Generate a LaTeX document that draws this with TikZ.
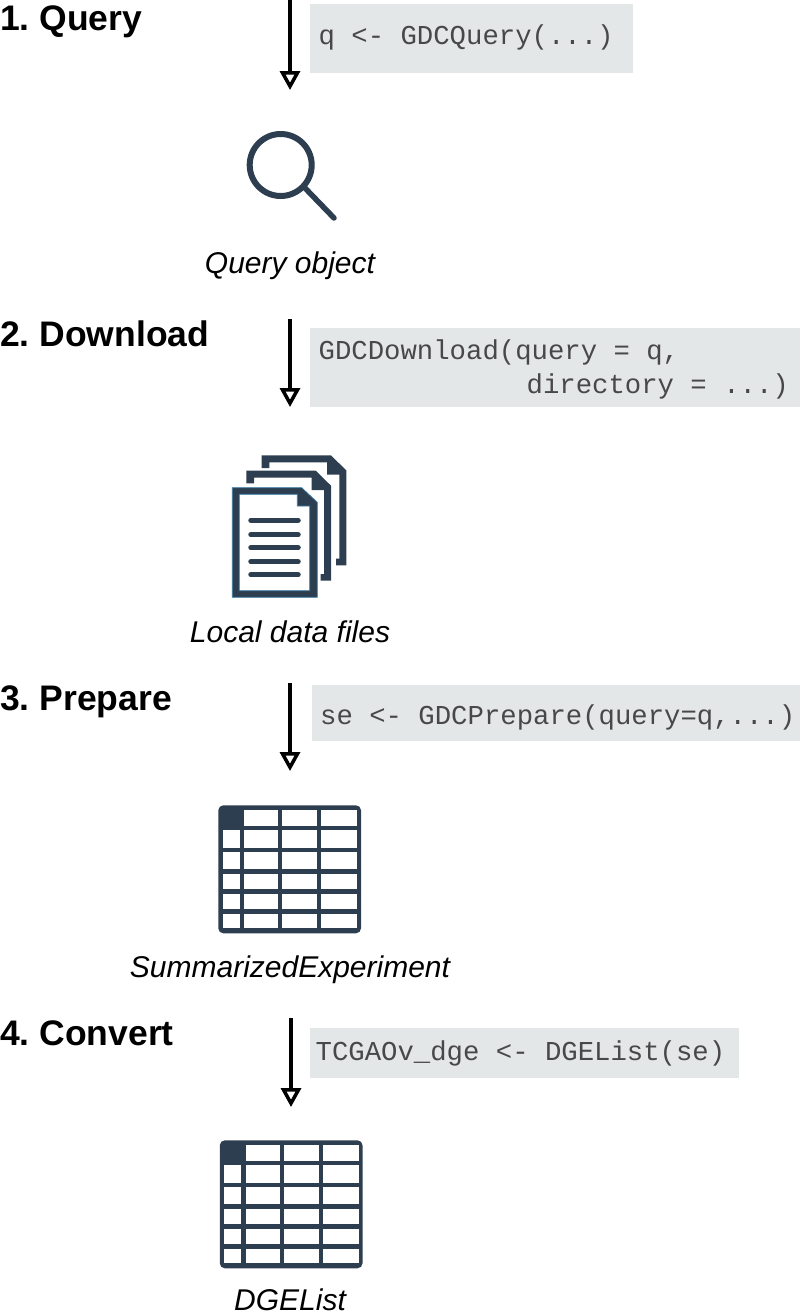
\documentclass[tikz,border=0pt]{standalone}
\usepackage{fontspec}
\setmainfont{Liberation Sans}
\setmonofont{Liberation Mono}
\usetikzlibrary{arrows.meta}
\definecolor{iconcol}{HTML}{2C3E50}
\definecolor{iconedge}{HTML}{3A7CA5}
\definecolor{boxcol}{HTML}{E4E7E8}
\definecolor{codecol}{HTML}{484848}
\newcommand{\codefont}{\fontsize{27.3}{34}\selectfont\ttfamily\fontdimen2\font=16.38pt\fontdimen3\font=0pt\fontdimen4\font=0pt\fontdimen7\font=0pt\relax}

\begin{document}
\begin{tikzpicture}[x=1pt, y=-1pt]

\tikzset{
    steplabel/.style={anchor=base west, inner sep=0pt, font=\fontsize{35.5}{40}\selectfont\bfseries\frenchspacing},
    objlabel/.style={anchor=base, inner sep=0pt, font=\fontsize{30}{36}\selectfont\itshape},
    codebox/.style={anchor=north west, fill=boxcol, inner sep=0pt},
    codetext/.style={anchor=base west, inner sep=0pt, align=left, text=codecol, font=\codefont},
    flow/.style={line width=4pt, -{Triangle[open, length=19pt, width=20pt, line width=3.5pt]}},
    tableicon/.pic={
        \fill[iconcol, rounded corners=5pt] (0,0) rectangle (142.7,128);
        \foreach \xa/\xb in {25.7/60, 64/99, 103/138.7}
            \foreach \ya/\yb in {4.7/20.7, 25/42.4, 47/64, 68.4/84, 89/104, 108.7/123}
                \fill[white] (\xa,\ya) rectangle (\xb,\yb);
        \foreach \ya/\yb in {25/42.4, 47/64, 68.4/84, 89/104, 108.7/123}
            \fill[white] (4.4,\ya) rectangle (21.4,\yb);
    },
    backpage/.pic={
        \fill[iconcol] (0,0) -- (69.4,0) -- (84.7,15) -- (84.7,110) -- (74.4,110) -- (74.4,103.3)
            -- (77.7,103.3) -- (77.7,19.3) -- (65.4,19.3) -- (65.4,7) -- (7.7,7) -- (7.7,12.6) -- (0,12.6) -- cycle;
    }
}

\useasboundingbox (0,0) rectangle (800,1312);

\node[steplabel] (query) at (0,30.5) {1. Query};
\node[steplabel] (download) at (0,346.5) {2. Download};
\node[steplabel] (prepare) at (0,710.5) {3. Prepare};
\node[steplabel] (convert) at (0,1045.5) {4. Convert};

\node[codebox, minimum width=323pt, minimum height=69pt] (boxq) at (310,4) {};
\node[codebox, minimum width=490pt, minimum height=79pt] (boxd) at (310,328) {};
\node[codebox, minimum width=488pt, minimum height=56pt] (boxp) at (312,685) {};
\node[codebox, minimum width=429pt, minimum height=50pt] (boxc) at (310,1028) {};

\node[codetext] (codeq) at (318.5,44) {q <- GDCQuery(...)};
\node[codetext] (coded) at (318.5,393.5) {GDCDownload(query = q,\\\hspace*{208pt}directory = ...)};
\node[codetext] (codep) at (320,724.5) {se <- GDCPrepare(query=q,...)};
\node[codetext] (codec) at (315.5,1060) {TCGAOv\_dge <- DGEList(se)};

\coordinate (qtop) at (290,0);
\coordinate (qend) at (290,90);
\coordinate (dtop) at (290,319);
\coordinate (dend) at (290,407);
\coordinate (ptop) at (290,683);
\coordinate (pend) at (290,771);
\coordinate (ctop) at (291,1018);
\coordinate (cend) at (291,1107);
\draw[flow] (qtop) -- (qend);
\draw[flow] (dtop) -- (dend);
\draw[flow] (ptop) -- (pend);
\draw[flow] (ctop) -- (cend);

\draw[iconcol, line width=6pt] (280.7,165) circle (31);
\draw[iconcol, line width=5.5pt, line cap=round] (305,188) -- (334,218);
\node[objlabel] (qobj) at (290,273) {Query object};

\pic at (261.6,455.4) {backpage};
\pic at (246.3,470.7) {backpage};
\path[fill=iconcol, draw=iconedge, line width=.7pt, even odd rule]
    (232.3,487.7) -- (301.7,487.7) -- (317.3,502.3) -- (317.3,597.3) -- (232.3,597.3) -- cycle
    (239.3,494.3) -- (297.3,494.3) -- (297.3,506) -- (309.7,506) -- (309.7,590.7) -- (239.3,590.7) -- cycle;
\foreach \y in {520.3, 534.7, 547.7, 561.7, 574.7}
    \draw[iconcol, line width=5.5pt, line cap=round] (251,\y) -- (298,\y);
\node[objlabel] (files) at (290,642) {Local data files};

\pic at (218.3,805.3) {tableicon};
\node[objlabel] (sexp) at (290,977) {SummarizedExperiment};

\pic at (219.8,1140.3) {tableicon};
\node[objlabel] (dge) at (290,1310) {DGEList};

\end{tikzpicture}
\end{document}
